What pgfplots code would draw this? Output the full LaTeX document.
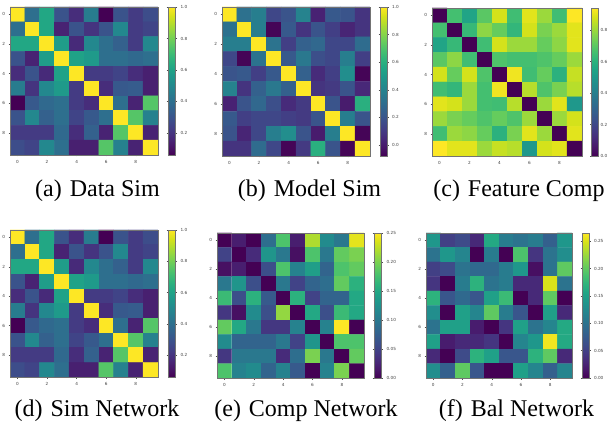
\documentclass[border=0pt]{standalone}
\usepackage{fontspec}
\setmainfont{Liberation Serif}
\setsansfont{DejaVu Sans}
\usepackage{pgfplots}
\pgfplotsset{compat=1.18}
\pgfplotsset{
 hm/.style={
  scale only axis, anchor=north west,
  xmin=-0.5, xmax=9.5, ymin=-0.5, ymax=9.5, y dir=reverse,
  enlargelimits=false, axis on top,
  xtick={0,2,4,6,8}, ytick={0,2,4,6,8},
  xtick pos=left, ytick pos=left,
  tick align=outside, major tick length=1.5pt,
  every tick/.style={black!70, line width=0.3pt},
  axis line style={black!55, line width=0.6pt},
  tick label style={font=\sffamily\fontsize{4.2}{5}\selectfont, text=black!75},
  /pgf/number format/assume math mode=true,
  colormap/viridis,
  colorbar,
  colorbar style={at={(parent axis.north east)}, anchor=north west, width=7.5pt,
    tick align=outside, major tick length=1.5pt,
    every tick/.style={black!70, line width=0.3pt},
    axis line style={black!55, line width=0.6pt},
    tick label style={font=\sffamily\fontsize{4.2}{5}\selectfont, text=black!75},
    /pgf/number format/assume math mode=true},
 },
 cb1/.style={colorbar style={ytick={#1}, yticklabel style={/pgf/number format/fixed, /pgf/number format/fixed zerofill, /pgf/number format/precision=1}}},
 cb2/.style={colorbar style={ytick={#1}, yticklabel style={/pgf/number format/fixed, /pgf/number format/fixed zerofill, /pgf/number format/precision=2}}},
}
\begin{document}
\begin{tikzpicture}
\useasboundingbox (0,0) rectangle (608pt,422pt);
% (a) Data Sim
\begin{axis}[hm, at={(10pt,415pt)}, width=148pt, height=148pt, point meta min=0.06, point meta max=1.0, cb1={0.2,0.4,0.6,0.8,1.0}, colorbar style={xshift=1.5pt}]
\addplot[matrix plot*, mesh/cols=10, point meta=explicit] coordinates {
(0,0)[1.00] (1,0)[0.40] (2,0)[0.62] (3,0)[0.30] (4,0)[0.18] (5,0)[0.45] (6,0)[0.05] (7,0)[0.30] (8,0)[0.22] (9,0)[0.28]
(0,1)[0.40] (1,1)[1.00] (2,1)[0.62] (3,1)[0.15] (4,1)[0.30] (5,1)[0.20] (6,1)[0.30] (7,1)[0.50] (8,1)[0.22] (9,1)[0.25]
(0,2)[0.62] (1,2)[0.62] (2,2)[1.00] (3,2)[0.58] (4,2)[0.17] (5,2)[0.50] (6,2)[0.40] (7,2)[0.35] (8,2)[0.22] (9,2)[0.50]
(0,3)[0.30] (1,3)[0.15] (2,3)[0.58] (3,3)[1.00] (4,3)[0.60] (5,3)[0.57] (6,3)[0.40] (7,3)[0.40] (8,3)[0.38] (9,3)[0.40]
(0,4)[0.18] (1,4)[0.30] (2,4)[0.17] (3,4)[0.60] (4,4)[1.00] (5,4)[0.22] (6,4)[0.22] (7,4)[0.25] (8,4)[0.18] (9,4)[0.14]
(0,5)[0.45] (1,5)[0.20] (2,5)[0.50] (3,5)[0.57] (4,5)[0.22] (5,5)[1.00] (6,5)[0.18] (7,5)[0.32] (8,5)[0.33] (9,5)[0.14]
(0,6)[0.05] (1,6)[0.32] (2,6)[0.38] (3,6)[0.40] (4,6)[0.22] (5,6)[0.18] (6,6)[1.00] (7,6)[0.40] (8,6)[0.15] (9,6)[0.75]
(0,7)[0.30] (1,7)[0.50] (2,7)[0.35] (3,7)[0.40] (4,7)[0.25] (5,7)[0.32] (6,7)[0.40] (7,7)[1.00] (8,7)[0.75] (9,7)[0.47]
(0,8)[0.22] (1,8)[0.22] (2,8)[0.22] (3,8)[0.38] (4,8)[0.18] (5,8)[0.35] (6,8)[0.15] (7,8)[0.75] (8,8)[1.00] (9,8)[0.15]
(0,9)[0.28] (1,9)[0.25] (2,9)[0.50] (3,9)[0.40] (4,9)[0.14] (5,9)[0.14] (6,9)[0.75] (7,9)[0.47] (8,9)[0.15] (9,9)[1.00]
};
\end{axis}
% (b) Model Sim
\begin{axis}[hm, at={(222pt,415pt)}, width=148pt, height=149pt, point meta min=-0.08, point meta max=1.0, cb1={0.0,0.2,0.4,0.6,0.8,1.0}, colorbar style={xshift=1.5pt, width=7pt}]
\addplot[matrix plot*, mesh/cols=10, point meta=explicit] coordinates {
(0,0)[1.00] (1,0)[0.32] (2,0)[0.38] (3,0)[0.15] (4,0)[0.20] (5,0)[0.40] (6,0)[0.02] (7,0)[0.22] (8,0)[0.20] (9,0)[0.08]
(0,1)[0.32] (1,1)[1.00] (2,1)[0.38] (3,1)[-0.07] (4,1)[0.22] (5,1)[0.08] (6,1)[0.20] (7,1)[0.12] (8,1)[0.03] (9,1)[0.08]
(0,2)[0.38] (1,2)[0.38] (2,2)[1.00] (3,2)[0.33] (4,2)[0.12] (5,2)[0.25] (6,2)[0.28] (7,2)[0.15] (8,2)[0.15] (9,2)[0.30]
(0,3)[0.15] (1,3)[-0.07] (2,3)[0.33] (3,3)[1.00] (4,3)[0.22] (5,3)[0.35] (6,3)[0.18] (7,3)[0.15] (8,3)[0.38] (9,3)[0.12]
(0,4)[0.20] (1,4)[0.22] (2,4)[0.12] (3,4)[0.22] (4,4)[1.00] (5,4)[0.25] (6,4)[0.05] (7,4)[0.12] (8,4)[0.45] (9,4)[-0.07]
(0,5)[0.40] (1,5)[0.08] (2,5)[0.25] (3,5)[0.35] (4,5)[0.25] (5,5)[1.00] (6,5)[0.08] (7,5)[0.10] (8,5)[0.20] (9,5)[0.04]
(0,6)[0.02] (1,6)[0.20] (2,6)[0.28] (3,6)[0.18] (4,6)[0.05] (5,6)[0.10] (6,6)[1.00] (7,6)[0.20] (8,6)[0.00] (9,6)[0.60]
(0,7)[0.22] (1,7)[0.12] (2,7)[0.15] (3,7)[0.15] (4,7)[0.12] (5,7)[0.10] (6,7)[0.20] (7,7)[1.00] (8,7)[0.38] (9,7)[0.20]
(0,8)[0.20] (1,8)[0.03] (2,8)[0.15] (3,8)[0.38] (4,8)[0.45] (5,8)[0.20] (6,8)[0.00] (7,8)[0.38] (8,8)[1.00] (9,8)[-0.07]
(0,9)[0.08] (1,9)[0.08] (2,9)[0.30] (3,9)[0.15] (4,9)[-0.07] (5,9)[0.10] (6,9)[0.60] (7,9)[0.20] (8,9)[-0.07] (9,9)[1.00]
};
\end{axis}
% (c) Feature Comp
\begin{axis}[hm, at={(432pt,414pt)}, width=150pt, height=148pt, point meta min=0, point meta max=0.94, cb1={0.0,0.2,0.4,0.6,0.8}, colorbar style={xshift=0.5pt, width=7pt, major tick length=1pt, yticklabel style={/tikz/xshift=-2pt}}]
\addplot[matrix plot*, mesh/cols=10, point meta=explicit] coordinates {
(0,0)[0.00] (1,0)[0.66] (2,0)[0.55] (3,0)[0.70] (4,0)[0.88] (5,0)[0.65] (6,0)[0.90] (7,0)[0.80] (8,0)[0.65] (9,0)[0.94]
(0,1)[0.66] (1,1)[0.00] (2,1)[0.63] (3,1)[0.78] (4,1)[0.72] (5,1)[0.62] (6,1)[0.88] (7,1)[0.75] (8,1)[0.80] (9,1)[0.90]
(0,2)[0.55] (1,2)[0.63] (2,2)[0.00] (3,2)[0.65] (4,2)[0.88] (5,2)[0.80] (6,2)[0.80] (7,2)[0.72] (8,2)[0.78] (9,2)[0.90]
(0,3)[0.70] (1,3)[0.78] (2,3)[0.65] (3,3)[0.00] (4,3)[0.68] (5,3)[0.66] (6,3)[0.66] (7,3)[0.68] (8,3)[0.72] (9,3)[0.80]
(0,4)[0.88] (1,4)[0.72] (2,4)[0.88] (3,4)[0.68] (4,4)[0.00] (5,4)[0.92] (6,4)[0.65] (7,4)[0.72] (8,4)[0.60] (9,4)[0.86]
(0,5)[0.65] (1,5)[0.62] (2,5)[0.80] (3,5)[0.66] (4,5)[0.92] (5,5)[0.00] (6,5)[0.84] (7,5)[0.68] (8,5)[0.75] (9,5)[0.84]
(0,6)[0.90] (1,6)[0.88] (2,6)[0.80] (3,6)[0.66] (4,6)[0.65] (5,6)[0.84] (6,6)[0.00] (7,6)[0.80] (8,6)[0.90] (9,6)[0.50]
(0,7)[0.80] (1,7)[0.75] (2,7)[0.72] (3,7)[0.68] (4,7)[0.72] (5,7)[0.68] (6,7)[0.80] (7,7)[0.00] (8,7)[0.80] (9,7)[0.88]
(0,8)[0.65] (1,8)[0.80] (2,8)[0.78] (3,8)[0.72] (4,8)[0.60] (5,8)[0.75] (6,8)[0.90] (7,8)[0.80] (8,8)[0.00] (9,8)[0.90]
(0,9)[0.94] (1,9)[0.90] (2,9)[0.90] (3,9)[0.80] (4,9)[0.86] (5,9)[0.84] (6,9)[0.50] (7,9)[0.88] (8,9)[0.90] (9,9)[0.00]
};
\end{axis}
% (d) Sim Network
\begin{axis}[hm, at={(10pt,192pt)}, width=148pt, height=147pt, point meta min=0.06, point meta max=1.0, cb1={0.2,0.4,0.6,0.8,1.0}, colorbar style={xshift=1.5pt}]
\addplot[matrix plot*, mesh/cols=10, point meta=explicit] coordinates {
(0,0)[1.00] (1,0)[0.40] (2,0)[0.62] (3,0)[0.30] (4,0)[0.18] (5,0)[0.45] (6,0)[0.05] (7,0)[0.30] (8,0)[0.22] (9,0)[0.28]
(0,1)[0.40] (1,1)[1.00] (2,1)[0.62] (3,1)[0.15] (4,1)[0.30] (5,1)[0.20] (6,1)[0.30] (7,1)[0.50] (8,1)[0.22] (9,1)[0.25]
(0,2)[0.62] (1,2)[0.62] (2,2)[1.00] (3,2)[0.58] (4,2)[0.17] (5,2)[0.50] (6,2)[0.40] (7,2)[0.35] (8,2)[0.22] (9,2)[0.50]
(0,3)[0.30] (1,3)[0.15] (2,3)[0.58] (3,3)[1.00] (4,3)[0.60] (5,3)[0.57] (6,3)[0.40] (7,3)[0.40] (8,3)[0.38] (9,3)[0.40]
(0,4)[0.18] (1,4)[0.30] (2,4)[0.17] (3,4)[0.60] (4,4)[1.00] (5,4)[0.22] (6,4)[0.22] (7,4)[0.25] (8,4)[0.18] (9,4)[0.14]
(0,5)[0.45] (1,5)[0.20] (2,5)[0.50] (3,5)[0.57] (4,5)[0.22] (5,5)[1.00] (6,5)[0.18] (7,5)[0.32] (8,5)[0.33] (9,5)[0.14]
(0,6)[0.05] (1,6)[0.32] (2,6)[0.38] (3,6)[0.40] (4,6)[0.22] (5,6)[0.18] (6,6)[1.00] (7,6)[0.40] (8,6)[0.15] (9,6)[0.75]
(0,7)[0.30] (1,7)[0.50] (2,7)[0.35] (3,7)[0.40] (4,7)[0.25] (5,7)[0.32] (6,7)[0.40] (7,7)[1.00] (8,7)[0.75] (9,7)[0.47]
(0,8)[0.22] (1,8)[0.22] (2,8)[0.22] (3,8)[0.38] (4,8)[0.18] (5,8)[0.35] (6,8)[0.15] (7,8)[0.75] (8,8)[1.00] (9,8)[0.15]
(0,9)[0.28] (1,9)[0.25] (2,9)[0.50] (3,9)[0.40] (4,9)[0.14] (5,9)[0.14] (6,9)[0.75] (7,9)[0.47] (8,9)[0.15] (9,9)[1.00]
};
\end{axis}
% (e) Comp Network
\begin{axis}[hm, at={(217pt,189pt)}, width=147pt, height=145pt, point meta min=0, point meta max=0.25, cb2={0,0.05,0.10,0.15,0.20,0.25}, colorbar style={xshift=1.5pt}]
\addplot[matrix plot*, mesh/cols=10, point meta=explicit] coordinates {
(0,0)[0.00] (1,0)[0.02] (2,0)[0.00] (3,0)[0.09] (4,0)[0.18] (5,0)[0.02] (6,0)[0.22] (7,0)[0.12] (8,0)[0.10] (9,0)[0.24]
(0,1)[0.05] (1,1)[0.00] (2,1)[0.03] (3,1)[0.13] (4,1)[0.10] (5,1)[0.01] (6,1)[0.18] (7,1)[0.10] (8,1)[0.19] (9,1)[0.20]
(0,2)[0.01] (1,2)[0.02] (2,2)[0.00] (3,2)[0.06] (4,2)[0.18] (5,2)[0.11] (6,2)[0.14] (7,2)[0.08] (8,2)[0.18] (9,2)[0.19]
(0,3)[0.10] (1,3)[0.13] (2,3)[0.06] (3,3)[0.00] (4,3)[0.10] (5,3)[0.05] (6,3)[0.08] (7,3)[0.09] (8,3)[0.19] (9,3)[0.16]
(0,4)[0.17] (1,4)[0.06] (2,4)[0.16] (3,4)[0.07] (4,4)[0.00] (5,4)[0.16] (6,4)[0.05] (7,4)[0.08] (8,4)[0.08] (9,4)[0.15]
(0,5)[0.04] (1,5)[0.01] (2,5)[0.12] (3,5)[0.06] (4,5)[0.21] (5,5)[0.00] (6,5)[0.15] (7,5)[0.06] (8,5)[0.17] (9,5)[0.15]
(0,6)[0.19] (1,6)[0.15] (2,6)[0.10] (3,6)[0.04] (4,6)[0.04] (5,6)[0.11] (6,6)[0.00] (7,6)[0.11] (8,6)[0.25] (9,6)[0.00]
(0,7)[0.12] (1,7)[0.08] (2,7)[0.08] (3,7)[0.08] (4,7)[0.10] (5,7)[0.05] (6,7)[0.13] (7,7)[0.00] (8,7)[0.18] (9,7)[0.18]
(0,8)[0.04] (1,8)[0.10] (2,8)[0.10] (3,8)[0.10] (4,8)[0.03] (5,8)[0.09] (6,8)[0.20] (7,8)[0.10] (8,8)[0.00] (9,8)[0.19]
(0,9)[0.18] (1,9)[0.11] (2,9)[0.12] (3,9)[0.08] (4,9)[0.11] (5,9)[0.07] (6,9)[0.00] (7,9)[0.11] (8,9)[0.20] (9,9)[0.00]
};
\end{axis}
% (f) Bal Network
\begin{axis}[hm, at={(426pt,189pt)}, width=146pt, height=145pt, point meta min=0, point meta max=0.265, cb2={0,0.05,0.10,0.15,0.20,0.25}, colorbar style={xshift=1.5pt, width=7pt}]
\addplot[matrix plot*, mesh/cols=10, point meta=explicit] coordinates {
(0,0)[0.14] (1,0)[0.05] (2,0)[0.06] (3,0)[0.03] (4,0)[0.16] (5,0)[0.11] (6,0)[0.10] (7,0)[0.11] (8,0)[0.08] (9,0)[0.14]
(0,1)[0.10] (1,1)[0.14] (2,1)[0.12] (3,1)[0.00] (4,1)[0.11] (5,1)[0.00] (6,1)[0.19] (7,1)[0.04] (8,1)[0.10] (9,1)[0.13]
(0,2)[0.05] (1,2)[0.06] (2,2)[0.10] (3,2)[0.09] (4,2)[0.09] (5,2)[0.11] (6,2)[0.14] (7,2)[0.01] (8,2)[0.10] (9,2)[0.20]
(0,3)[0.04] (1,3)[0.00] (2,3)[0.11] (3,3)[0.17] (4,3)[0.10] (5,3)[0.11] (6,3)[0.03] (7,3)[0.03] (8,3)[0.25] (9,3)[0.10]
(0,4)[0.17] (1,4)[0.07] (2,4)[0.09] (3,4)[0.07] (4,4)[0.15] (5,4)[0.18] (6,4)[0.00] (7,4)[0.03] (8,4)[0.20] (9,4)[0.00]
(0,5)[0.13] (1,5)[0.00] (2,5)[0.15] (3,5)[0.12] (4,5)[0.20] (5,5)[0.11] (6,5)[0.07] (7,5)[0.00] (8,5)[0.15] (9,5)[0.03]
(0,6)[0.10] (1,6)[0.15] (2,6)[0.15] (3,6)[0.02] (4,6)[0.00] (5,6)[0.04] (6,6)[0.15] (7,6)[0.10] (8,6)[0.12] (9,6)[0.16]
(0,7)[0.15] (1,7)[0.02] (2,7)[0.03] (3,7)[0.03] (4,7)[0.04] (5,7)[0.00] (6,7)[0.12] (7,7)[0.14] (8,7)[0.26] (9,7)[0.16]
(0,8)[0.03] (1,8)[0.00] (2,8)[0.06] (3,8)[0.17] (4,8)[0.15] (5,8)[0.07] (6,8)[0.07] (7,8)[0.17] (8,8)[0.20] (9,8)[0.03]
(0,9)[0.13] (1,9)[0.08] (2,9)[0.20] (3,9)[0.07] (4,9)[0.00] (5,9)[0.00] (6,9)[0.15] (7,9)[0.12] (8,9)[0.08] (9,9)[0.12]
};
\end{axis}
% captions
\begin{scope}[every node/.style={font=\fontsize{24}{24}\selectfont, inner sep=0pt, anchor=base}]
\node at (97.5pt,225.5pt) {(a)\hspace{0.33em}Data Sim};
\node at (309.5pt,225.5pt) {(b)\hspace{0.33em}Model Sim};
\node at (519pt,225.5pt) {(c)\hspace{0.33em}Feature Comp};
\node at (97pt,5.5pt) {(d)\hspace{0.33em}Sim Network};
\node at (306pt,5.5pt) {(e)\hspace{0.33em}Comp Network};
\node at (516.5pt,5.5pt) {(f)\hspace{0.33em}Bal Network};
\end{scope}
\end{tikzpicture}
\end{document}
